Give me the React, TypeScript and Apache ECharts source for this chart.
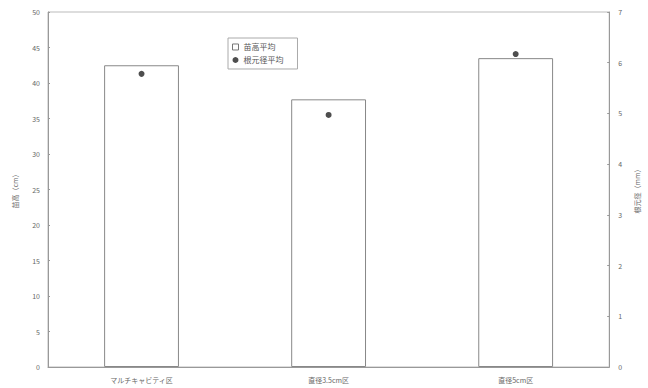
import React, { useEffect, useRef } from "react";
import * as echarts from "echarts";

const categories = ["マルチキャビティ区", "直径3.5cm区", "直径5cm区"];
const heightAvg = [42.5, 37.7, 43.5];
const diameterAvg = [5.78, 4.97, 6.17];
const legendNames = ["苗高平均", "根元径平均"];
const leftAxisName = "苗高（cm）";
const rightAxisName = "根元径（mm）";

const FONT = "Noto Sans CJK JP";
const GREY = "#999";
const TXT = "#666";

export default function App() {
  const ref = useRef<HTMLDivElement>(null);
  useEffect(() => {
    if (!ref.current) return;
    const chart = echarts.init(ref.current, undefined, { renderer: "svg" });
    chart.setOption({
      animation: false,
      backgroundColor: "#fff",
      textStyle: { fontFamily: FONT },
      grid: {
        left: 48,
        right: 35,
        top: 12,
        bottom: 21,
        show: true,
        borderColor: "#bbb",
        borderWidth: 1,
        backgroundColor: "transparent",
      },
      legend: {
        orient: "vertical",
        left: 228,
        top: 38,
        itemWidth: 6,
        itemHeight: 6,
        itemGap: 5,
        padding: [5, 14, 5, 4],
        borderColor: "#aaa",
        borderWidth: 1,
        textStyle: { fontSize: 8, color: "#555", fontFamily: FONT },
        data: [
          { name: legendNames[0], icon: "rect", itemStyle: { color: "#fff", borderColor: "#777", borderWidth: 1 } },
          { name: legendNames[1], icon: "circle", itemStyle: { color: "#222" } },
        ],
      },
      xAxis: {
        type: "category",
        data: categories,
        boundaryGap: true,
        axisLine: { lineStyle: { color: GREY } },
        axisTick: { inside: true, length: 2, lineStyle: { color: GREY } },
        axisLabel: { fontSize: 7, color: TXT, margin: 9, fontFamily: FONT },
      },
      yAxis: [
        {
          type: "value",
          min: 0,
          max: 50,
          interval: 5,
          name: leftAxisName,
          nameLocation: "middle",
          nameGap: 30,
          nameTextStyle: { fontSize: 7, color: TXT, fontFamily: FONT },
          axisLine: { show: true, lineStyle: { color: GREY } },
          axisTick: { show: true, inside: true, length: 2, lineStyle: { color: GREY } },
          axisLabel: { fontSize: 7, color: TXT, margin: 8, fontFamily: FONT },
          splitLine: { show: false },
        },
        {
          type: "value",
          min: 0,
          max: 7,
          interval: 1,
          name: rightAxisName,
          nameLocation: "middle",
          nameGap: 20,
          nameTextStyle: { fontSize: 7, color: TXT, fontFamily: FONT },
          axisLine: { show: true, lineStyle: { color: GREY } },
          axisTick: { show: true, inside: true, length: 2, lineStyle: { color: GREY } },
          axisLabel: { fontSize: 7, color: TXT, margin: 9, fontFamily: FONT },
          splitLine: { show: false },
        },
      ],
      series: [
        {
          name: legendNames[0],
          type: "bar",
          data: heightAvg,
          barWidth: "40%",
          yAxisIndex: 0,
          itemStyle: { color: "#fff", borderColor: "#888", borderWidth: 1 },
        },
        {
          name: legendNames[1],
          type: "scatter",
          data: diameterAvg,
          yAxisIndex: 1,
          symbol: "circle",
          symbolSize: 6,
          itemStyle: { color: "#222" },
        },
      ],
    });
    return () => chart.dispose();
  }, []);
  return (
    <div
      ref={ref}
      style={{ position: "absolute", left: 0, top: 0, width: 648, height: 388 }}
    />
  );
}
